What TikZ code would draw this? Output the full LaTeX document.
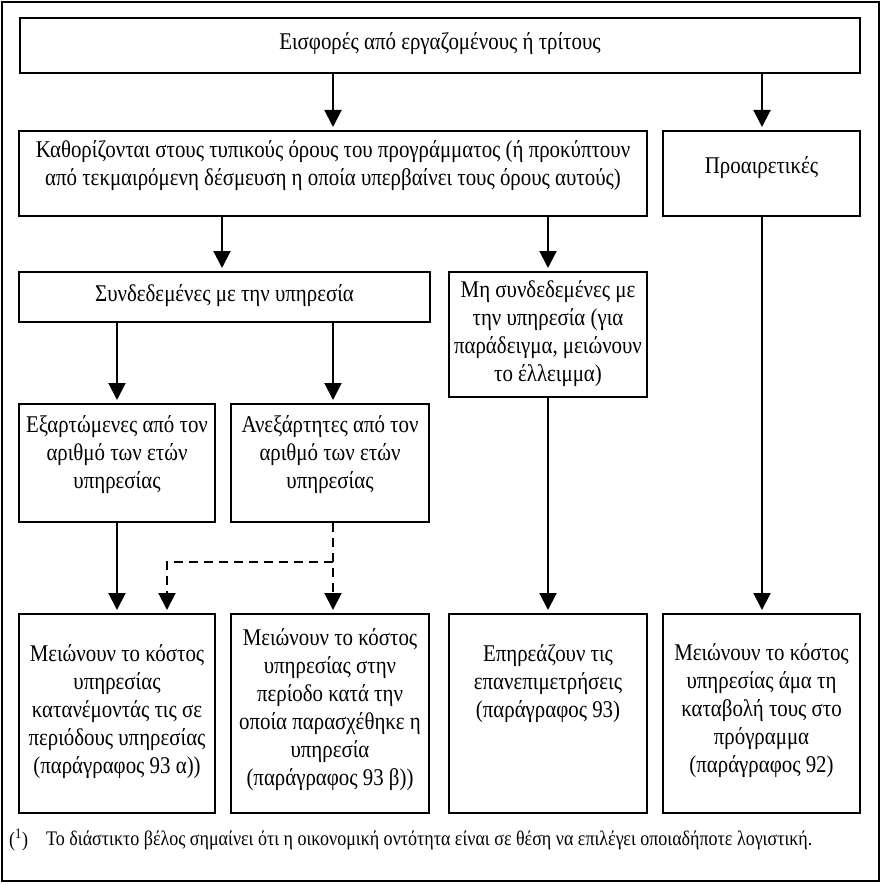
\documentclass[tikz,border=0pt]{standalone}
\usepackage{fontspec}
\setmainfont{Liberation Serif}[FakeStretch=0.87]
\usetikzlibrary{arrows.meta}
\begin{document}
\begin{tikzpicture}[x=1pt,y=-1pt,
  box/.style={draw=black, line width=2pt, inner sep=0pt, fill=white},
  txt/.style={align=center, font=\fontsize{24}{28}\selectfont, inner sep=0pt},
  arr/.style={line width=2pt, -{Triangle[width=17pt,length=17pt]}, shorten >=3pt},
  darr/.style={arr, dash pattern=on 9pt off 6pt},
  fnt/.style={anchor=west, inner sep=0pt, font=\fontsize{20.7}{22}\selectfont}
]
\useasboundingbox (0,0) rectangle (882,885);
\node[draw=black, line width=2.5pt, inner sep=0pt, minimum width=877pt, minimum height=879pt] (frame) at (440.5,441.5) {};

% boxes
\node[box, minimum width=840pt, minimum height=55pt] (T) at (440,45.5) {};
\node[box, minimum width=628pt, minimum height=85pt] (K) at (333,173.5) {};
\node[box, minimum width=197pt, minimum height=85pt] (P) at (761.5,173.5) {};
\node[box, minimum width=411pt, minimum height=50pt] (S) at (224.5,297) {};
\node[box, minimum width=198pt, minimum height=125pt] (M) at (548,334.5) {};
\node[box, minimum width=196pt, minimum height=118pt] (E) at (117,463) {};
\node[box, minimum width=198pt, minimum height=118pt] (A) at (330,463) {};
\node[box, minimum width=196pt, minimum height=199pt] (B1) at (117,713.5) {};
\node[box, minimum width=198pt, minimum height=199pt] (B2) at (330,713.5) {};
\node[box, minimum width=198pt, minimum height=199pt] (B3) at (548,713.5) {};
\node[box, minimum width=197pt, minimum height=199pt] (B4) at (761.5,713.5) {};

% texts
\node[txt] (tT) at (440,44) {Εισφορές από εργαζομένους ή τρίτους};
\node[txt] (tK) at (333,166) {Καθορίζονται στους τυπικούς όρους του προγράμματος (ή προκύπτουν\\από τεκμαιρόμενη δέσμευση η οποία υπερβαίνει τους όρους αυτούς)};
\node[txt] (tP) at (761.5,168) {Προαιρετικές};
\node[txt] (tS) at (224.5,296) {Συνδεδεμένες με την υπηρεσία};
\node[txt] (tM) at (548,334) {Μη συνδεδεμένες με\\την υπηρεσία (για\\παράδειγμα, μειώνουν\\το έλλειμμα)};
\node[txt] (tE) at (117,455) {Εξαρτώμενες από τον\\αριθμό των ετών\\υπηρεσίας};
\node[txt] (tA) at (330,455) {Ανεξάρτητες από τον\\αριθμό των ετών\\υπηρεσίας};
\node[txt] (tB1) at (117,712) {Μειώνουν το κόστος\\υπηρεσίας\\κατανέμοντάς τις σε\\περιόδους υπηρεσίας\\(παράγραφος 93 α))};
\node[txt] (tB2) at (330,710) {Μειώνουν το κόστος\\υπηρεσίας στην\\περίοδο κατά την\\οποία παρασχέθηκε η\\υπηρεσία\\(παράγραφος 93 β))};
\node[txt] (tB3) at (548,684) {Επηρεάζουν τις\\επανεπιμετρήσεις\\(παράγραφος 93)};
\node[txt] (tB4) at (761.5,711) {Μειώνουν το κόστος\\υπηρεσίας άμα τη\\καταβολή τους στο\\πρόγραμμα\\(παράγραφος 92)};

% footnote
\node[fnt] (fnm) at (9,840) {(\textsuperscript{1})};
\node[fnt] (fn) at (46,840) {Το διάστικτο βέλος σημαίνει ότι η οικονομική οντότητα είναι σε θέση να επιλέγει οποιαδήποτε λογιστική.};

% arrow columns
\coordinate (c1) at (333,0);
\coordinate (c2) at (762,0);
\coordinate (c3) at (222,0);
\coordinate (c4) at (548,0);
\coordinate (c5) at (117,0);
\coordinate (c6) at (333,0);
\coordinate (c7) at (167,0);
\coordinate (j) at (333,562);

\draw[arr] (T.south -| c1) -- (K.north -| c1);
\draw[arr] (T.south -| c2) -- (P.north -| c2);
\draw[arr] (K.south -| c3) -- (S.north -| c3);
\draw[arr] (K.south -| c4) -- (M.north -| c4);
\draw[arr] (S.south -| c5) -- (E.north -| c5);
\draw[arr] (S.south -| c6) -- (A.north -| c6);
\draw[arr] (E.south -| c5) -- (B1.north -| c5);
\draw[darr] (A.south -| c6) -- (B2.north -| c6);
\draw[darr] (j) -| (B1.north -| c7);
\draw[arr] (M.south -| c4) -- (B3.north -| c4);
\draw[arr] (P.south -| c2) -- (B4.north -| c2);
\end{tikzpicture}
\end{document}
